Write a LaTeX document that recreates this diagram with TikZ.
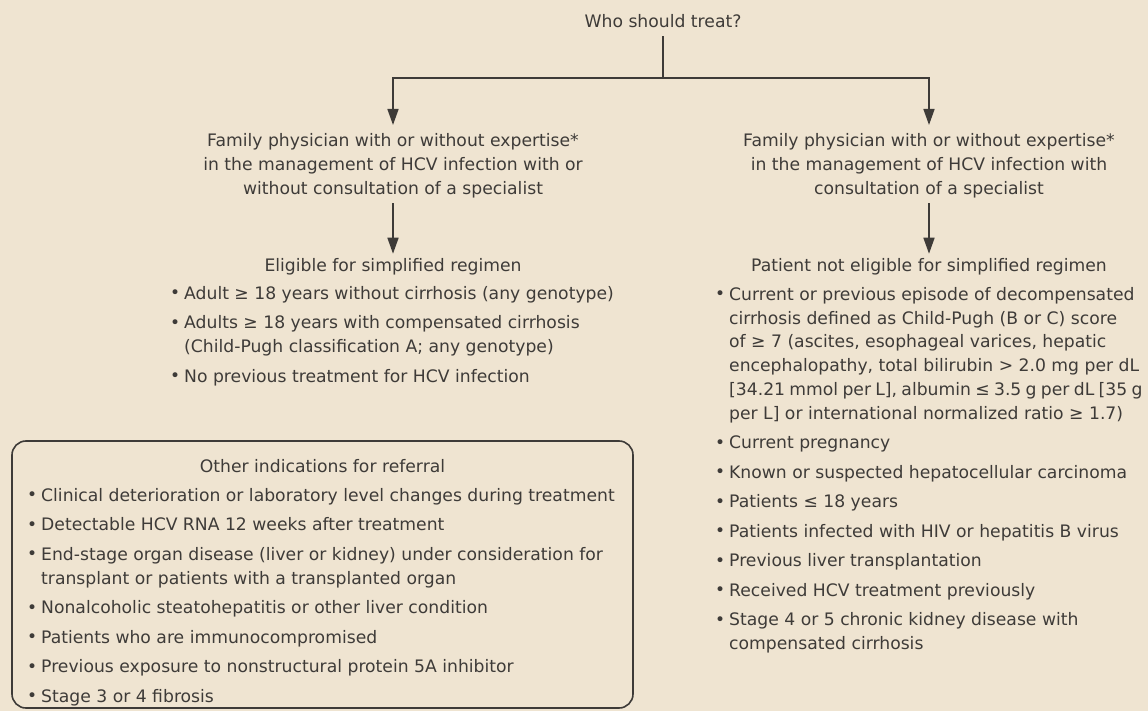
\documentclass[tikz,border=0pt]{standalone}
\usepackage{fontspec}
\setmainfont{DejaVu Sans}
\usetikzlibrary{arrows.meta}

\definecolor{paper}{RGB}{239,228,209}
\definecolor{ink}{RGB}{62,59,56}
\newcommand{\bul}{\makebox[14pt][l]{\raisebox{0.3pt}{\fontsize{17}{17}\selectfont •}}}
\newcommand{\ind}{\hspace*{14pt}}
\newcommand{\tight}[1]{{\spaceskip=4.3pt\relax #1}}

\begin{document}
\begin{tikzpicture}[x=1pt,y=-1pt,
    txt/.style={inner sep=0pt, text=ink, font=\fontsize{17.2}{23.8}\selectfont},
    head/.style={txt, align=center, inner ysep=8pt, font=\fontsize{17.2}{24}\selectfont},
    lst/.style={txt, align=left, anchor=north west},
    ln/.style={draw=ink, line width=1.6pt},
    arr/.style={ln, -{Triangle[length=16pt,width=11pt]}}]
    \fill[paper] (0,0) rectangle (1148,711);
    \useasboundingbox (0,0) rectangle (1148,711);

    \node[head, anchor=base] (who) at (663,28) {Who should treat?};
    \node[head, anchor=north] (fpA) at (393,125) {Family physician with or without expertise*\\
        in the management of HCV infection with or\\ without consultation of a specialist};
    \node[head, anchor=north] (fpB) at (929,125) {Family physician with or without expertise*\\
        in the management of HCV infection with\\ consultation of a specialist};
    \node[head, anchor=base, inner ysep=5pt] (eligA) at (393,272) {Eligible for simplified regimen};
    \node[head, anchor=base, inner ysep=5pt] (eligB) at (929,272) {Patient not eligible for simplified regimen};

    \node[lst] (listA) at (170,286) {\bul Adult ≥ 18 years without cirrhosis (any genotype)\\[5.7pt]
        \bul Adults ≥ 18 years with compensated cirrhosis\\
        \ind (Child-Pugh classification A; any genotype)\\[5.7pt]
        \bul No previous treatment for HCV infection};
    \node[lst] (listB) at (715,287) {\bul Current or previous episode of decompensated\\
        \ind cirrhosis defined as Child-Pugh (B or C) score\\
        \ind of ≥ 7 (ascites, esophageal varices, hepatic\\
        \ind encephalopathy, total bilirubin > 2.0 mg per dL\\
        \ind \tight{[34.21 mmol per L], albumin ≤ 3.5 g per dL [35 g}\\
        \ind per L] or international normalized ratio ≥ 1.7)\\[5.7pt]
        \bul Current pregnancy\\[5.7pt]
        \bul Known or suspected hepatocellular carcinoma\\[5.7pt]
        \bul Patients ≤ 18 years\\[5.7pt]
        \bul Patients infected with HIV or hepatitis B virus\\[5.7pt]
        \bul Previous liver transplantation\\[5.7pt]
        \bul Received HCV treatment previously\\[5.7pt]
        \bul Stage 4 or 5 chronic kidney disease with\\
        \ind compensated cirrhosis};

    % referral box
    \draw[ln, rounded corners=14pt] (12,441) rectangle (633,708);
    \node[txt, anchor=base] (other) at (322.5,472) {Other indications for referral};
    \node[lst] (otherlist) at (27,488) {\bul Clinical deterioration or laboratory level changes during treatment\\[5.7pt]
        \bul Detectable HCV RNA 12 weeks after treatment\\[5.7pt]
        \bul End-stage organ disease (liver or kidney) under consideration for\\
        \ind transplant or patients with a transplanted organ\\[5.7pt]
        \bul Nonalcoholic steatohepatitis or other liver condition\\[5.7pt]
        \bul Patients who are immunocompromised\\[5.7pt]
        \bul Previous exposure to nonstructural protein 5A inhibitor\\[5.7pt]
        \bul Stage 3 or 4 fibrosis};

    \coordinate (split) at (663,78);
    \draw[ln] (who) -- (split);
    \draw[arr] (split) -| (fpA);
    \draw[arr] (split) -| (fpB);
    \draw[arr, shorten <=-3pt] (fpA) -- (eligA);
    \draw[arr, shorten <=-3pt] (fpB) -- (eligB);
\end{tikzpicture}
\end{document}
